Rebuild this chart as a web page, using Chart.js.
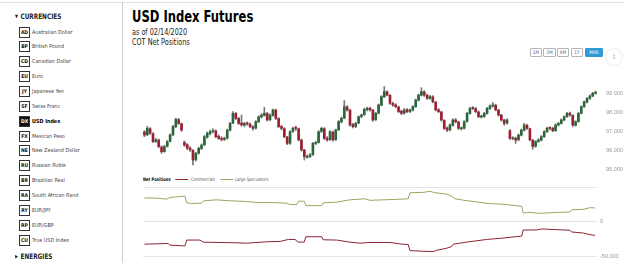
<!DOCTYPE html>
<html>
<head>
<meta charset="utf-8">
<script src="https://cdn.jsdelivr.net/npm/chart.js@4.4.1/dist/chart.umd.min.js"></script>
<style>
body{margin:0;width:625px;height:263px;overflow:hidden;background:#fff;position:relative;
  font-family:"Liberation Sans Narrow","DejaVu Sans Condensed",Roboto,sans-serif;color:#222;}
.topline{position:absolute;left:0;top:2px;width:625px;height:1px;background:#e2e2e2;}
.vline{position:absolute;left:122px;top:2px;width:1px;height:261px;background:#cfcfcf;}
.grp{position:absolute;left:15px;font-weight:bold;font-size:7.5px;transform:scaleX(0.85);transform-origin:left;}
.grp span{font-size:5px;margin-right:3px;position:relative;top:-1px;}
.row{position:absolute;left:19px;height:11px;font-size:5.4px;color:#444;white-space:nowrap;}
.row b{display:inline-block;width:9px;height:9px;border:1px solid #333;font-size:5px;line-height:9px;text-align:center;vertical-align:middle;margin-right:2px;color:#111;}
.row.on b{background:#111;color:#fff;}
.row.on{color:#000;font-weight:bold;}
.title{position:absolute;left:132px;top:7px;font-size:16.5px;font-weight:bold;color:#000;transform:scaleX(0.78);transform-origin:left;white-space:nowrap;}
.sub{position:absolute;left:132px;font-size:8px;color:#222;transform:scaleX(0.9);transform-origin:left;white-space:nowrap;}
.btn{position:absolute;top:48px;height:7px;border:1px solid #b5b5b5;font-size:4.8px;line-height:7px;text-align:center;color:#666;border-radius:1px;}
.btn.on{background:#2e9bd6;border-color:#2e9bd6;color:#fff;}
.dl{position:absolute;left:606px;top:49px;width:16px;height:16px;border-radius:50%;background:#fff;box-shadow:0 0 2px #ccc;font-size:6px;color:#999;text-align:center;line-height:15px;}
.legend{position:absolute;left:143px;top:177px;font-size:4.8px;color:#555;white-space:nowrap;transform:scaleX(0.85);transform-origin:left;}
.legend i{display:inline-block;width:15px;height:1px;vertical-align:middle;margin:0 3px 0 6px;}
canvas{position:absolute;left:0;}
</style>
</head>
<body>
<div class="topline"></div>
<div class="vline"></div>
<div id="side"></div>

<div class="title">USD Index Futures</div>
<div class="sub" style="top:28px">as of 02/14/2020</div>
<div class="sub" style="top:38px">COT Net Positions</div>

<div class="btn" style="left:530px;width:10px">1M</div>
<div class="btn" style="left:543px;width:11px">3M</div>
<div class="btn" style="left:557px;width:10px">6M</div>
<div class="btn" style="left:571px;width:10px">1Y</div>
<div class="btn on" style="left:585px;width:16px">MAX</div>
<div class="dl">&#8615;</div>

<div class="legend"><b style="color:#000">Net Positions</b><i style="background:#8b2333"></i>Commercials<i style="background:#9ea460"></i>Large Speculators</div>

<canvas id="price" width="625" height="113" style="top:62px"></canvas>
<canvas id="net" width="625" height="91" style="top:172px"></canvas>

<script>
// sidebar list
var groups = ["CURRENCIES", "ENERGIES"];
var codes = ["AD", "BP", "CD", "EU", "JY", "SF", "DX", "FX", "NE", "RU", "BR", "RA", "RY", "RP", "CU"];
var names = ["Australian Dollar", "British Pound", "Canadian Dollar", "Euro", "Japanese Yen", "Swiss Franc", "USD Index",
  "Mexican Peso", "New Zealand Dollar", "Russian Ruble", "Brazilian Real", "South African Rand", "EUR/JPY", "EUR/GBP", "True USD Index"];

// USD index daily candles
var opens = [96.95,96.80,97.12,96.86,96.45,96.52,96.16,95.92,96.20,96.45,
  96.80,97.22,97.60,97.38,96.40,96.28,96.10,95.98,95.50,95.84,
  96.08,96.28,96.68,96.86,96.97,97.00,96.72,96.62,96.55,96.62,
  97.04,97.42,97.92,97.66,97.42,97.30,97.42,97.36,97.22,97.15,
  97.48,97.74,97.82,97.92,97.60,97.82,98.10,97.66,97.24,97.12,
  96.68,96.36,96.98,97.16,97.12,96.52,96.00,95.62,95.66,95.76,
  96.34,96.40,96.98,97.12,96.62,96.55,96.94,96.55,97.06,97.48,
  97.68,98.26,98.10,97.34,97.24,97.42,97.76,97.86,98.12,98.20,
  98.10,97.60,97.94,98.36,98.80,99.06,98.88,98.45,98.38,98.26,
  98.04,97.94,98.12,98.02,98.10,98.28,98.62,98.88,99.06,98.88,
  98.72,98.80,98.52,98.12,98.00,97.56,97.16,97.06,97.30,97.58,
  97.48,97.12,97.15,97.50,97.92,98.20,98.18,98.00,97.74,97.76,
  97.92,98.18,98.30,98.36,98.10,97.84,97.58,97.42,97.02,96.60,
  96.62,96.54,96.78,97.04,97.30,97.12,96.52,96.20,96.45,96.52,
  96.70,96.96,97.16,97.14,97.02,97.32,97.40,97.58,97.76,97.94,
  97.82,97.30,97.50,97.94,98.28,98.52,98.72,98.84,98.98];
var highs = [97.02,97.25,97.18,96.92,96.62,96.58,96.22,96.25,96.50,96.85,
  97.30,97.68,97.66,97.42,96.48,96.34,96.18,96.02,95.88,96.15,
  96.32,96.76,96.95,97.05,97.12,97.06,96.80,96.70,96.68,97.10,
  97.46,98.02,97.98,97.72,97.84,97.46,97.48,97.42,97.28,97.55,
  97.80,97.92,98.24,97.98,97.90,98.16,98.15,97.70,97.30,97.18,
  96.72,97.02,97.20,97.26,97.16,96.58,96.04,95.74,95.82,96.40,
  96.46,97.02,97.20,97.18,96.70,97.02,97.00,97.10,97.55,97.74,
  98.60,98.34,98.14,97.40,97.46,97.80,97.90,98.20,98.26,98.26,
  98.14,97.98,98.42,98.86,99.34,99.12,98.92,98.52,98.44,98.32,
  98.10,98.18,98.18,98.16,98.34,98.68,98.94,99.28,99.12,98.94,
  98.88,98.86,98.56,98.18,98.04,97.60,97.22,97.38,97.64,97.66,
  97.52,97.22,97.54,97.98,98.24,98.28,98.24,98.06,97.84,97.98,
  98.24,98.38,98.50,98.42,98.14,97.88,97.62,97.64,97.08,96.70,
  96.68,96.84,97.10,97.40,97.36,97.16,96.56,96.50,96.60,96.76,
  97.02,97.20,97.22,97.20,97.38,97.46,97.64,97.80,97.98,98.00,
  97.86,97.54,97.98,98.32,98.58,98.76,98.90,99.04,99.10];
var lows = [96.70,96.75,96.82,96.38,96.40,96.12,95.82,95.88,96.15,96.42,
  96.76,97.18,97.35,96.98,96.18,96.02,95.92,95.21,95.42,95.78,
  96.02,96.22,96.62,96.80,96.90,96.64,96.55,96.48,96.50,96.58,
  97.00,97.38,97.60,97.34,97.26,97.24,97.30,97.18,97.05,97.10,
  97.44,97.68,97.78,97.52,97.55,97.78,97.60,97.18,97.06,96.64,
  96.28,96.30,96.92,97.02,96.48,95.94,95.47,95.56,95.60,95.72,
  96.28,96.36,96.92,96.55,96.46,96.50,96.46,96.50,97.02,97.42,
  97.64,98.05,97.26,97.16,97.18,97.38,97.70,97.82,98.06,98.04,
  97.50,97.55,97.90,98.32,98.76,98.84,98.40,98.30,98.22,97.96,
  97.86,97.88,97.96,97.96,98.06,98.24,98.58,98.84,98.82,98.66,
  98.66,98.48,98.06,97.96,97.52,97.08,96.96,97.00,97.26,97.42,
  97.08,97.06,97.10,97.46,97.88,98.12,97.96,97.70,97.68,97.72,
  97.88,98.14,98.26,98.06,97.78,97.52,97.30,97.36,96.56,96.54,
  96.35,96.48,96.74,97.00,97.08,96.48,96.04,96.14,96.40,96.48,
  96.66,96.92,97.06,96.96,96.98,97.26,97.36,97.54,97.72,97.78,
  97.22,97.26,97.46,97.90,98.24,98.48,98.66,98.80,98.94];
var closes = [96.79,97.14,96.88,96.44,96.53,96.18,95.91,96.18,96.44,96.79,
  97.23,97.61,97.40,97.05,96.26,96.09,96.00,95.47,95.82,96.09,
  96.26,96.70,96.88,96.96,97.02,96.70,96.61,96.56,96.61,97.05,
  97.40,97.93,97.67,97.40,97.32,97.40,97.37,97.23,97.14,97.49,
  97.75,97.84,97.93,97.58,97.84,98.11,97.67,97.23,97.14,96.70,
  96.35,96.96,97.14,97.14,96.53,96.00,95.65,95.65,95.74,96.35,
  96.39,96.96,97.14,96.61,96.53,96.96,96.53,97.05,97.49,97.67,
  98.28,98.11,97.32,97.23,97.40,97.75,97.84,98.14,98.19,98.11,
  97.58,97.93,98.37,98.81,99.07,98.89,98.46,98.37,98.28,98.02,
  97.93,98.11,98.02,98.11,98.28,98.63,98.89,99.07,98.89,98.72,
  98.81,98.54,98.11,98.02,97.58,97.14,97.05,97.32,97.58,97.49,
  97.14,97.14,97.49,97.93,98.19,98.19,98.02,97.75,97.75,97.93,
  98.19,98.32,98.37,98.11,97.84,97.58,97.40,97.58,96.61,96.61,
  96.53,96.79,97.05,97.32,97.14,96.53,96.18,96.44,96.53,96.70,
  96.96,97.14,97.14,97.02,97.32,97.40,97.58,97.75,97.93,97.84,
  97.32,97.49,97.93,98.28,98.54,98.72,98.84,98.98,99.04];
var priceTicks = [95, 96, 97, 98, 99];

// COT net positions (x = trading day of the candle axis)
var specDays = [0,4.3,7.7,8.9,11.2,14.1,14.7,16.4,19.9,20.5,25.1,29.8,35.6,39.1,43.7,49.5,50.7,53,53.5,55.6,
  56.2,61.7,62.2,66.9,71.5,76.8,78.5,86.6,91.8,92.4,97,99.4,101.1,105.2,106.9,108.1,111,114.4,119.7,124.9,
  131.3,131.8,134.2,137.7,143.5,148.1,148.7,152.7,155.1,156.8];
var specValues = [34300,33800,32400,34800,35800,36800,27000,26100,26600,30000,31400,30000,29000,27500,27500,26600,24500,24500,29400,29400,
  23000,23000,27000,28000,31400,32900,30700,31900,32900,41700,42200,43700,41700,39700,36800,32900,30900,29000,26100,25000,
  22100,12300,13200,11800,13200,13700,17100,17600,20100,19600];
var commDays = [0,4.3,8.3,8.9,13.5,14.1,14.7,19.3,20.5,26.3,32.1,35.6,42.5,47.2,50.1,52.4,53.5,55.6,56.2,61.7,
  62.2,66.9,71.5,75,78.5,85.5,89.5,91.8,92.4,97,100.5,101.7,105.2,106.9,107.5,112.1,119.1,124.9,131.3,131.8,
  136.5,138.2,143.5,148.1,148.7,152.7,155.1,156.8];
var commValues = [-32800,-32400,-31900,-34300,-35300,-35300,-26900,-26900,-29900,-30400,-30900,-31400,-29400,-28900,-26000,-26000,-29900,-29900,-22100,-22100,
  -26500,-26900,-29900,-31400,-30400,-30400,-32800,-33300,-42200,-43100,-43600,-41700,-38700,-36300,-32800,-29900,-26000,-24000,-21100,-12300,
  -12300,-10800,-11800,-12700,-15200,-16700,-19100,-20100];
var netTicks = [-50000, 0, 50000];

// sidebar
var side = document.getElementById('side');
var html = '<div class="grp" style="top:12px"><span>&#9660;</span>' + groups[0] + '</div>';
for (var i = 0; i < codes.length; i++) {
  html += '<div class="row' + (codes[i] == 'DX' ? ' on' : '') + '" style="top:' + (26.5 + i * 14.86).toFixed(1) + 'px"><b>' + codes[i] + '</b>' + names[i] + '</div>';
}
html += '<div class="grp" style="top:252px"><span>&#9654;</span>' + groups[1] + '</div>';
side.innerHTML = html;

var axisFont = { family: '"Liberation Sans", Arial, sans-serif', size: 5.5 };
function dotted(v) {
  var s = String(Math.abs(v)).replace(/\B(?=(\d{3})+(?!\d))/g, '.');
  return (v < 0 ? '-' : '') + s;
}

//price chart
var bodyColors = closes.map(function (c, i) { return c >= opens[i] ? '#2a6638' : '#9c2034'; });
new Chart(document.getElementById('price'), {
  type: 'bar',
  data: {
    labels: closes.map(function (c, i) { return i; }),
    datasets: [{
      data: opens.map(function (o, i) { return [o, closes[i]]; }),
      backgroundColor: bodyColors,
      barThickness: 2,
      minBarLength: 1,
      grouped: false
    }, {
      data: lows.map(function (l, i) { return [l, highs[i]]; }),
      backgroundColor: '#777',
      barThickness: 1,
      grouped: false
    }]
  },
  options: {
    responsive: false,
    animation: false,
    layout: { padding: { left: 143, top: 12, bottom: 6, right: 0 } },
    plugins: { legend: { display: false }, tooltip: { enabled: false } },
    scales: {
      x: { display: false, offset: true },
      y: {
        position: 'right', min: 95, max: 100,
        afterBuildTicks: function (s) { s.ticks = priceTicks.map(function (v) { return { value: v }; }); },
        afterFit: function (s) { s.width = 28; },
        grid: { display: false },
        border: { display: false },
        ticks: { color: '#9a9a9a', font: axisFont, padding: 1, callback: function (v) { return v.toFixed(3); } }
      }
    }
  }
});

//net positions chart
new Chart(document.getElementById('net'), {
  type: 'line',
  data: {
    datasets: [{
      label: 'Commercials',
      data: commDays.map(function (d, i) { return { x: d, y: commValues[i] }; }),
      borderColor: '#8b2333',
      borderWidth: 1,
      pointRadius: 0
    }, {
      label: 'Large Speculators',
      data: specDays.map(function (d, i) { return { x: d, y: specValues[i] }; }),
      borderColor: '#9ea460',
      borderWidth: 1,
      pointRadius: 0
    }]
  },
  options: {
    responsive: false,
    animation: false,
    layout: { padding: { left: 143, top: 15, bottom: 7, right: 0 } },
    plugins: { legend: { display: false }, tooltip: { enabled: false } },
    scales: {
      x: { type: 'linear', display: false, min: -0.5, max: 157.5 },
      y: {
        position: 'right', min: -50000, max: 50000,
        afterBuildTicks: function (s) { s.ticks = netTicks.map(function (v) { return { value: v }; }); },
        afterFit: function (s) { s.width = 28; },
        grid: { color: '#e4e4e4', drawTicks: false },
        border: { display: false },
        ticks: { color: '#9a9a9a', font: axisFont, padding: 3, callback: function (v) { return v == 50000 ? '' : dotted(v); } }
      }
    }
  }
});
</script>
</body>
</html>
